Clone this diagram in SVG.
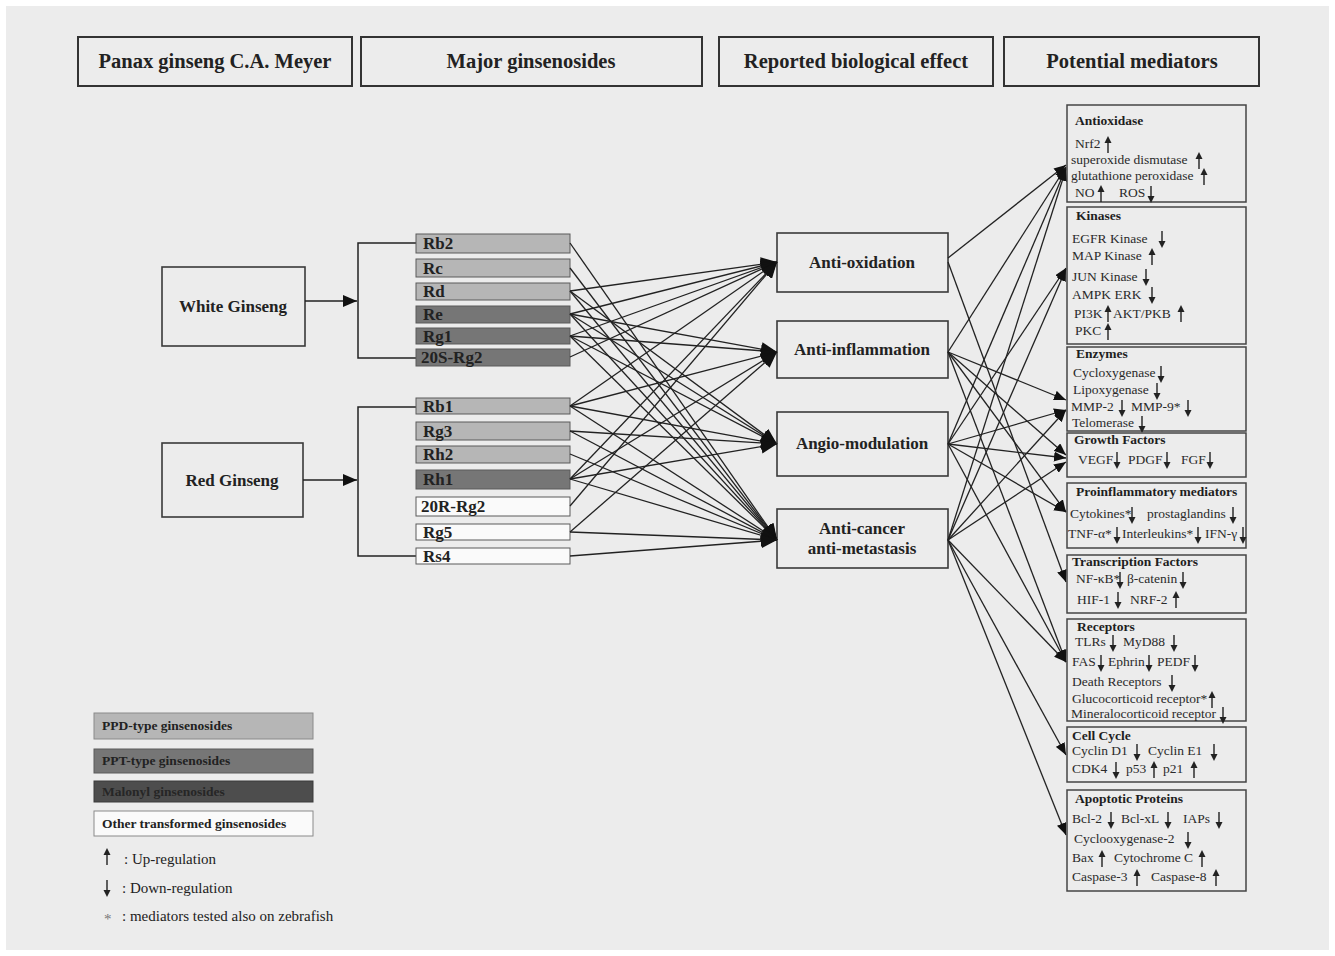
<svg xmlns="http://www.w3.org/2000/svg" xmlns:xlink="http://www.w3.org/1999/xlink" width="1335" height="956" viewBox="0 0 1335 956">
<style>
text{font-family:"Liberation Serif","Times New Roman",serif;fill:#222}
.hdr rect{fill:#ececec;stroke:#333;stroke-width:2}
.hdr text{font-size:20.5px;font-weight:bold;text-anchor:middle}
.node rect{fill:#ececec;stroke:#3a3a3a;stroke-width:1.6}
.node text{font-size:17px;font-weight:bold;text-anchor:middle}
.bar rect{stroke:#5a5a5a;stroke-width:1}
.bar text{font-size:17px;font-weight:bold}
.ppd{fill:#b6b6b6}
.ppt{fill:#767676}
.mal{fill:#4d4d4d}
.oth{fill:#fafafa}
.med rect{fill:#ececec;stroke:#444;stroke-width:1.5}
.med text{font-size:13.5px;fill:#2a2a2a}
.med text.t{font-weight:bold;fill:#1e1e1e}
.lg text{font-size:13.5px;font-weight:bold}
.lg text.n{font-size:15px;font-weight:normal}
#conn line{stroke:#222;stroke-width:1.3;fill:none}
#conn .l line{marker-end:url(#ahL)}
#conn .r line{marker-end:url(#ahR)}
.br{stroke:#222;stroke-width:1.5;fill:none}
</style>
<defs>
<marker id="ahL" markerUnits="userSpaceOnUse" markerWidth="17" markerHeight="14" refX="16" refY="7" orient="auto"><path d="M0,0 L16,7 L0,14 Z" fill="#111"/></marker>
<marker id="ahR" markerUnits="userSpaceOnUse" markerWidth="13" markerHeight="10" refX="12" refY="5" orient="auto"><path d="M0,0 L12,5 L0,10 Z" fill="#111"/></marker>
<marker id="ahB" markerUnits="userSpaceOnUse" markerWidth="15" markerHeight="12" refX="14" refY="6" orient="auto"><path d="M0,0 L14,6 L0,12 Z" fill="#111"/></marker>
<g id="up"><path d="M0,-9 L-3.5,-2 L3.5,-2 Z" fill="#222"/><line x1="0" y1="-3" x2="0" y2="8" stroke="#222" stroke-width="1.4"/></g>
<g id="dn"><path d="M0,9 L-3.5,2 L3.5,2 Z" fill="#222"/><line x1="0" y1="-8" x2="0" y2="3" stroke="#222" stroke-width="1.4"/></g>
</defs>
<rect x="0" y="0" width="1335" height="956" fill="#ffffff"/>
<rect x="6" y="6" width="1323" height="944" fill="#ececec"/>

<!-- headers -->
<g id="h1" class="hdr"><rect x="78" y="37" width="274" height="49"/><text x="215" y="68">Panax ginseng C.A. Meyer</text></g>
<g id="h2" class="hdr"><rect x="361" y="37" width="341" height="49"/><text x="531" y="68">Major ginsenosides</text></g>
<g id="h3" class="hdr"><rect x="719" y="37" width="274" height="49"/><text x="856" y="68">Reported biological effect</text></g>
<g id="h4" class="hdr"><rect x="1004" y="37" width="255" height="49"/><text x="1132" y="68">Potential mediators</text></g>

<!-- sources -->
<g id="white" class="node"><rect x="162" y="267" width="143" height="79"/><text x="233" y="312">White Ginseng</text></g>
<g id="red" class="node"><rect x="162" y="443" width="141" height="74"/><text x="232" y="486">Red Ginseng</text></g>

<!-- brackets -->
<g id="brackets">
<line class="br" x1="305" y1="301" x2="357" y2="301" marker-end="url(#ahB)"/>
<polyline class="br" points="416,243 358,243 358,358 416,358"/>
<line class="br" x1="303" y1="480" x2="357" y2="480" marker-end="url(#ahB)"/>
<polyline class="br" points="416,407 358,407 358,556 416,556"/>
</g>

<!-- ginsenosides -->
<g id="g-rb2" class="bar"><rect class="ppd" x="416" y="234" width="154" height="19"/><text x="423" y="249">Rb2</text></g>
<g id="g-rc" class="bar"><rect class="ppd" x="416" y="259" width="154" height="18"/><text x="423" y="274">Rc</text></g>
<g id="g-rd" class="bar"><rect class="ppd" x="416" y="283" width="154" height="17"/><text x="423" y="297">Rd</text></g>
<g id="g-re" class="bar"><rect class="ppt" x="416" y="306" width="154" height="17"/><text x="423" y="320">Re</text></g>
<g id="g-rg1" class="bar"><rect class="ppt" x="416" y="328" width="154" height="16"/><text x="423" y="342">Rg1</text></g>
<g id="g-20s" class="bar"><rect class="ppt" x="416" y="349" width="154" height="17"/><text x="421" y="363">20S-Rg2</text></g>
<g id="g-rb1" class="bar"><rect class="ppd" x="416" y="398" width="154" height="16"/><text x="423" y="412">Rb1</text></g>
<g id="g-rg3" class="bar"><rect class="ppd" x="416" y="422" width="154" height="18"/><text x="423" y="437">Rg3</text></g>
<g id="g-rh2" class="bar"><rect class="ppd" x="416" y="446" width="154" height="17"/><text x="423" y="460">Rh2</text></g>
<g id="g-rh1" class="bar"><rect class="ppt" x="416" y="470" width="154" height="19"/><text x="423" y="485">Rh1</text></g>
<g id="g-20r" class="bar"><rect class="oth" x="416" y="497" width="154" height="19"/><text x="421" y="512">20R-Rg2</text></g>
<g id="g-rg5" class="bar"><rect class="oth" x="416" y="524" width="154" height="16"/><text x="423" y="538">Rg5</text></g>
<g id="g-rs4" class="bar"><rect class="oth" x="416" y="548" width="154" height="16"/><text x="423" y="562">Rs4</text></g>

<!-- effects -->
<g id="e-ao" class="node"><rect x="777" y="233" width="171" height="59"/><text x="862" y="268">Anti-oxidation</text></g>
<g id="e-ai" class="node"><rect x="777" y="321" width="171" height="57"/><text x="862" y="355">Anti-inflammation</text></g>
<g id="e-ag" class="node"><rect x="777" y="412" width="171" height="64"/><text x="862" y="449">Angio-modulation</text></g>
<g id="e-ac" class="node"><rect x="777" y="509" width="171" height="59"/><text x="862" y="534">Anti-cancer</text><text x="862" y="554">anti-metastasis</text></g>

<!-- connectors -->
<g id="conn">
<g class="l">
<line x1="570" y1="243" x2="777" y2="540"/>
<line x1="570" y1="268" x2="777" y2="540"/>
<line x1="570" y1="291" x2="777" y2="262"/>
<line x1="570" y1="291" x2="777" y2="444"/>
<line x1="570" y1="291" x2="777" y2="540"/>
<line x1="570" y1="314" x2="777" y2="262"/>
<line x1="570" y1="314" x2="777" y2="352"/>
<line x1="570" y1="314" x2="777" y2="444"/>
<line x1="570" y1="314" x2="777" y2="540"/>
<line x1="570" y1="336" x2="777" y2="262"/>
<line x1="570" y1="336" x2="777" y2="352"/>
<line x1="570" y1="336" x2="777" y2="444"/>
<line x1="570" y1="336" x2="777" y2="540"/>
<line x1="570" y1="357" x2="777" y2="262"/>
<line x1="570" y1="406" x2="777" y2="262"/>
<line x1="570" y1="406" x2="777" y2="352"/>
<line x1="570" y1="406" x2="777" y2="444"/>
<line x1="570" y1="406" x2="777" y2="540"/>
<line x1="570" y1="431" x2="777" y2="444"/>
<line x1="570" y1="431" x2="777" y2="540"/>
<line x1="570" y1="454" x2="777" y2="540"/>
<line x1="570" y1="479" x2="777" y2="262"/>
<line x1="570" y1="479" x2="777" y2="352"/>
<line x1="570" y1="479" x2="777" y2="444"/>
<line x1="570" y1="479" x2="777" y2="540"/>
<line x1="570" y1="506" x2="777" y2="262"/>
<line x1="570" y1="532" x2="777" y2="352"/>
<line x1="570" y1="532" x2="777" y2="540"/>
<line x1="570" y1="556" x2="777" y2="540"/>
</g>
<g class="r">
<line x1="948" y1="258" x2="1066" y2="165"/>
<line x1="948" y1="262" x2="1066" y2="582"/>
<line x1="948" y1="352" x2="1066" y2="167"/>
<line x1="948" y1="352" x2="1066" y2="400"/>
<line x1="948" y1="352" x2="1066" y2="455"/>
<line x1="948" y1="352" x2="1066" y2="512"/>
<line x1="948" y1="352" x2="1066" y2="662"/>
<line x1="948" y1="444" x2="1066" y2="168"/>
<line x1="948" y1="444" x2="1066" y2="268"/>
<line x1="948" y1="444" x2="1066" y2="410"/>
<line x1="948" y1="444" x2="1066" y2="458"/>
<line x1="948" y1="444" x2="1066" y2="512"/>
<line x1="948" y1="444" x2="1066" y2="662"/>
<line x1="948" y1="540" x2="1066" y2="169"/>
<line x1="948" y1="540" x2="1066" y2="269"/>
<line x1="948" y1="540" x2="1066" y2="410"/>
<line x1="948" y1="540" x2="1066" y2="462"/>
<line x1="948" y1="540" x2="1066" y2="662"/>
<line x1="948" y1="540" x2="1066" y2="755"/>
<line x1="948" y1="540" x2="1066" y2="835"/>
</g>
</g>

<!-- mediators -->
<g id="m-antiox" class="med"><rect x="1067" y="105" width="179" height="97"/>
<text class="t" x="1075" y="125">Antioxidase</text>
<text x="1075" y="148">Nrf2</text><use href="#up" x="1108" y="145"/>
<text x="1071" y="164">superoxide dismutase</text><use href="#up" x="1199" y="161"/>
<text x="1071" y="180">glutathione peroxidase</text><use href="#up" x="1204" y="177"/>
<text x="1075" y="197">NO</text><use href="#up" x="1101" y="194"/>
<text x="1119" y="197">ROS</text><use href="#dn" x="1151" y="194"/>
</g>
<g id="m-kin" class="med"><rect x="1067" y="207" width="179" height="137"/>
<text class="t" x="1076" y="220">Kinases</text>
<text x="1072" y="243">EGFR Kinase</text><use href="#dn" x="1162" y="239"/>
<text x="1072" y="260">MAP Kinase</text><use href="#up" x="1152" y="257"/>
<text x="1072" y="281">JUN Kinase</text><use href="#dn" x="1146" y="277"/>
<text x="1072" y="299">AMPK ERK</text><use href="#dn" x="1152" y="295"/>
<text x="1074" y="318">PI3K</text><use href="#up" x="1108" y="314"/>
<text x="1113" y="318">AKT/PKB</text><use href="#up" x="1181" y="314"/>
<text x="1075" y="335">PKC</text><use href="#up" x="1108" y="332"/>
</g>
<g id="m-enz" class="med"><rect x="1067" y="347" width="179" height="84"/>
<text class="t" x="1076" y="358">Enzymes</text>
<text x="1073" y="377">Cycloxygenase</text><use href="#dn" x="1161" y="374"/>
<text x="1073" y="394">Lipoxygenase</text><use href="#dn" x="1157" y="391"/>
<text x="1071" y="411">MMP-2</text><use href="#dn" x="1122" y="408"/>
<text x="1131" y="411">MMP-9*</text><use href="#dn" x="1188" y="408"/>
<text x="1072" y="427">Telomerase</text><use href="#dn" x="1142" y="424"/>
</g>
<g id="m-gf" class="med"><rect x="1067" y="433" width="179" height="44"/>
<text class="t" x="1074" y="444">Growth Factors</text>
<text x="1078" y="464">VEGF</text><use href="#dn" x="1117" y="460"/>
<text x="1128" y="464">PDGF</text><use href="#dn" x="1167" y="460"/>
<text x="1181" y="464">FGF</text><use href="#dn" x="1210" y="460"/>
</g>
<g id="m-pro" class="med"><rect x="1067" y="483" width="179" height="65"/>
<text class="t" x="1076" y="496">Proinflammatory mediators</text>
<text x="1070" y="518">Cytokines*</text><use href="#dn" x="1132" y="515"/>
<text x="1147" y="518">prostaglandins</text><use href="#dn" x="1233" y="515"/>
<text x="1068" y="538">TNF-α*</text><use href="#dn" x="1117" y="535"/>
<text x="1122" y="538">Interleukins*</text><use href="#dn" x="1198" y="535"/>
<text x="1205" y="538">IFN-γ</text><use href="#dn" x="1243" y="535"/>
</g>
<g id="m-tf" class="med"><rect x="1067" y="555" width="179" height="58"/>
<text class="t" x="1072" y="566">Transcription Factors</text>
<text x="1076" y="583">NF-κB*</text><use href="#dn" x="1120" y="580"/>
<text x="1127" y="583">β-catenin</text><use href="#dn" x="1183" y="580"/>
<text x="1077" y="604">HIF-1</text><use href="#dn" x="1118" y="600"/>
<text x="1130" y="604">NRF-2</text><use href="#up" x="1176" y="600"/>
</g>
<g id="m-rec" class="med"><rect x="1067" y="619" width="179" height="102"/>
<text class="t" x="1077" y="631">Receptors</text>
<text x="1075" y="646">TLRs</text><use href="#dn" x="1113" y="643"/>
<text x="1123" y="646">MyD88</text><use href="#dn" x="1174" y="643"/>
<text x="1072" y="666">FAS</text><use href="#dn" x="1101" y="663"/>
<text x="1108" y="666">Ephrin</text><use href="#dn" x="1149" y="663"/>
<text x="1157" y="666">PEDF</text><use href="#dn" x="1195" y="663"/>
<text x="1072" y="686">Death Receptors</text><use href="#dn" x="1172" y="683"/>
<text x="1072" y="703">Glucocorticoid receptor*</text><use href="#up" x="1212" y="700"/>
<text x="1071" y="718">Mineralocorticoid receptor</text><use href="#dn" x="1223" y="715"/>
</g>
<g id="m-cc" class="med"><rect x="1067" y="727" width="179" height="55"/>
<text class="t" x="1072" y="740">Cell Cycle</text>
<text x="1072" y="755">Cyclin D1</text><use href="#dn" x="1137" y="752"/>
<text x="1148" y="755">Cyclin E1</text><use href="#dn" x="1214" y="752"/>
<text x="1072" y="773">CDK4</text><use href="#dn" x="1116" y="770"/>
<text x="1126" y="773">p53</text><use href="#up" x="1154" y="770"/>
<text x="1163" y="773">p21</text><use href="#up" x="1194" y="770"/>
</g>
<g id="m-apo" class="med"><rect x="1067" y="790" width="179" height="101"/>
<text class="t" x="1075" y="803">Apoptotic Proteins</text>
<text x="1072" y="823">Bcl-2</text><use href="#dn" x="1111" y="820"/>
<text x="1121" y="823">Bcl-xL</text><use href="#dn" x="1168" y="820"/>
<text x="1183" y="823">IAPs</text><use href="#dn" x="1219" y="820"/>
<text x="1074" y="843">Cyclooxygenase-2</text><use href="#dn" x="1188" y="840"/>
<text x="1072" y="862">Bax</text><use href="#up" x="1102" y="859"/>
<text x="1114" y="862">Cytochrome C</text><use href="#up" x="1202" y="859"/>
<text x="1072" y="881">Caspase-3</text><use href="#up" x="1137" y="878"/>
<text x="1151" y="881">Caspase-8</text><use href="#up" x="1216" y="878"/>
</g>

<!-- legend -->
<g id="legend" class="lg">
<rect class="ppd" x="94" y="713" width="219" height="26" stroke="#8a8a8a" stroke-width="1"/>
<text x="102" y="730">PPD-type ginsenosides</text>
<rect class="ppt" x="94" y="749" width="219" height="24" stroke="#5a5a5a" stroke-width="1"/>
<text x="102" y="765" fill="#2a2a2a">PPT-type ginsenosides</text>
<rect class="mal" x="94" y="781" width="219" height="21" stroke="#3a3a3a" stroke-width="1"/>
<text x="102" y="796" style="fill:#262626">Malonyl ginsenosides</text>
<rect class="oth" x="94" y="811" width="219" height="25" stroke="#8a8a8a" stroke-width="1"/>
<text x="102" y="828">Other transformed ginsenosides</text>
<use href="#up" x="107" y="857"/>
<text class="n" x="124" y="864">: Up-regulation</text>
<use href="#dn" x="107" y="888"/>
<text class="n" x="122" y="893">: Down-regulation</text>
<text class="n" x="104" y="924" style="fill:#777">*</text>
<text class="n" x="122" y="921">: mediators tested also on zebrafish</text>
</g>
</svg>
